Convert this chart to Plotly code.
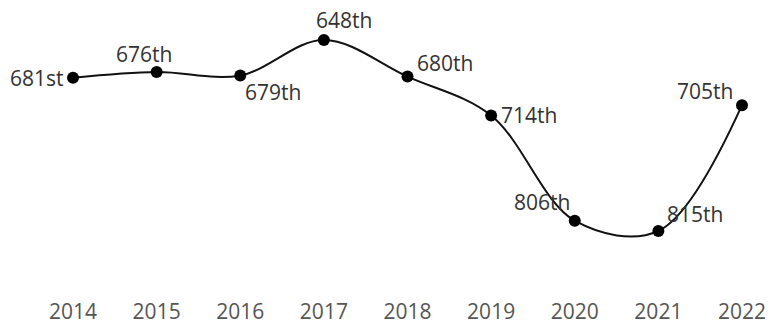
import plotly.graph_objects as go

years = [2014, 2015, 2016, 2017, 2018, 2019, 2020, 2021, 2022]
ranks = [681, 676, 679, 648, 680, 714, 806, 815, 705]
labels = ["681st", "676th", "679th", "648th", "680th", "714th", "806th", "815th", "705th"]
# label placement relative to its point: (x anchor, x shift px, y shift px upward)
label_place = [("right", -8, 0), ("center", -13, 18), ("left", 4, -17), ("left", -9, 20),
               ("left", 8, 14), ("left", 9, 0), ("right", -4, 19), ("left", 8, 17),
               ("right", -8, 14)]

OFF = 8  # default page body margin
W, H = 773 - OFF, 321 - OFF
top, bottom = 0, 289
px_per_year = 669 / 8
px_per_rank = 191 / 167
x0 = 2014 - (73 - OFF) / px_per_year
x1 = x0 + W / px_per_year
y_top = 648 - (40 - OFF - top) / px_per_rank
y_bot = 648 + (bottom - (40 - OFF)) / px_per_rank

fig = go.Figure(go.Scatter(
    x=years, y=ranks, mode="lines+markers",
    line=dict(color="#111111", width=2, shape="spline", smoothing=1.0),
    marker=dict(color="#000000", size=12),
    cliponaxis=False, hoverinfo="skip",
))

for yr, rk, lab, (xa, xs, ys) in zip(years, ranks, labels, label_place):
    fig.add_annotation(x=yr, y=rk, text=lab, showarrow=False,
                       xanchor=xa, yanchor="middle", xshift=xs, yshift=ys,
                       font=dict(family="Open Sans", size=21, color="#333333"),
                       borderpad=0)

fig.update_layout(
    width=W, height=H,
    margin=dict(l=0, r=0, t=top, b=H - bottom),
    paper_bgcolor="white", plot_bgcolor="white",
    showlegend=False,
    font=dict(family="Open Sans"),
    xaxis=dict(range=[x0, x1], tickmode="array", tickvals=years,
               ticktext=[str(y) for y in years], showgrid=False, zeroline=False,
               showline=False, ticks="", automargin=False,
               tickfont=dict(size=21, color="#555555")),
    yaxis=dict(range=[y_bot, y_top], visible=False, showgrid=False, zeroline=False),
)

fig.write_html("out.html")
